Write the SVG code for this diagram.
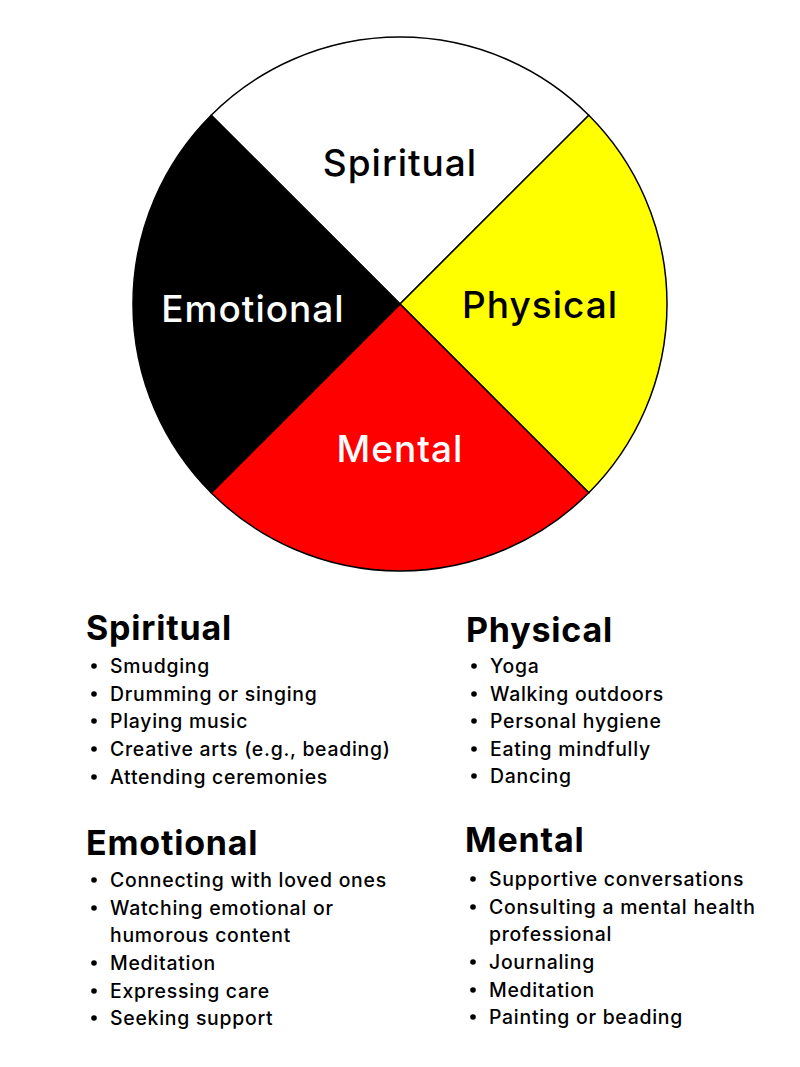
<svg xmlns="http://www.w3.org/2000/svg" width="800" height="1067" viewBox="0 0 800 1067">
<style>
.lbl{font-family:Inter,"Open Sans",sans-serif;font-weight:500;font-size:37px;text-anchor:middle;letter-spacing:1px}
.hd{font-family:Inter,"Open Sans",sans-serif;font-weight:700;font-size:34px;fill:#000;letter-spacing:0.8px}
.it{font-family:Inter,"Open Sans",sans-serif;font-weight:500;font-size:19.4px;fill:#000;letter-spacing:0.75px}
.seg{stroke:#000;stroke-width:1.5}
</style>
<rect width="800" height="1067" fill="#fff"/>
<g id="wheel">
<path id="q-spiritual" class="seg" fill="#fff" d="M400,304 L211.2,115.2 A267,267 0 0 1 588.8,115.2 Z"/>
<path id="q-physical" class="seg" fill="#ffff00" d="M400,304 L588.8,115.2 A267,267 0 0 1 588.8,492.8 Z"/>
<path id="q-mental" class="seg" fill="#ff0000" d="M400,304 L588.8,492.8 A267,267 0 0 1 211.2,492.8 Z"/>
<path id="q-emotional" class="seg" fill="#000" d="M400,304 L211.2,492.8 A267,267 0 0 1 211.2,115.2 Z"/>
<text class="lbl" x="400" y="176" fill="#000">Spiritual</text>
<text class="lbl" x="253" y="322" fill="#fff">Emotional</text>
<text class="lbl" x="540" y="318" fill="#000">Physical</text>
<text class="lbl" x="400" y="462" fill="#fff">Mental</text>
</g>
<g id="spiritual-list">
<text class="hd" x="86" y="640">Spiritual</text>
<g class="it">
<circle cx="94" cy="666" r="2.8"/><text x="110" y="673">Smudging</text>
<circle cx="94" cy="694" r="2.8"/><text x="110" y="701">Drumming or singing</text>
<circle cx="94" cy="721" r="2.8"/><text x="110" y="728">Playing music</text>
<circle cx="94" cy="749" r="2.8"/><text x="110" y="756">Creative arts (e.g., beading)</text>
<circle cx="94" cy="777" r="2.8"/><text x="110" y="784">Attending ceremonies</text>
</g>
</g>
<g id="physical-list">
<text class="hd" x="466" y="642">Physical</text>
<g class="it">
<circle cx="474" cy="666" r="2.8"/><text x="490" y="673">Yoga</text>
<circle cx="474" cy="694" r="2.8"/><text x="490" y="701">Walking outdoors</text>
<circle cx="474" cy="721" r="2.8"/><text x="490" y="728">Personal hygiene</text>
<circle cx="474" cy="749" r="2.8"/><text x="490" y="756">Eating mindfully</text>
<circle cx="474" cy="776" r="2.8"/><text x="490" y="783">Dancing</text>
</g>
</g>
<g id="emotional-list">
<text class="hd" x="86" y="855">Emotional</text>
<g class="it">
<circle cx="94" cy="880" r="2.8"/><text x="110" y="887">Connecting with loved ones</text>
<circle cx="94" cy="908" r="2.8"/><text x="110" y="915">Watching emotional or</text>
<text x="110" y="942">humorous content</text>
<circle cx="94" cy="963" r="2.8"/><text x="110" y="970">Meditation</text>
<circle cx="94" cy="991" r="2.8"/><text x="110" y="998">Expressing care</text>
<circle cx="94" cy="1018" r="2.8"/><text x="110" y="1025">Seeking support</text>
</g>
</g>
<g id="mental-list">
<text class="hd" x="465" y="852">Mental</text>
<g class="it">
<circle cx="473" cy="879" r="2.8"/><text x="489" y="886">Supportive conversations</text>
<circle cx="473" cy="907" r="2.8"/><text x="489" y="914">Consulting a mental health</text>
<text x="489" y="941">professional</text>
<circle cx="473" cy="962" r="2.8"/><text x="489" y="969">Journaling</text>
<circle cx="473" cy="990" r="2.8"/><text x="489" y="997">Meditation</text>
<circle cx="473" cy="1017" r="2.8"/><text x="489" y="1024">Painting or beading</text>
</g>
</g>
</svg>
